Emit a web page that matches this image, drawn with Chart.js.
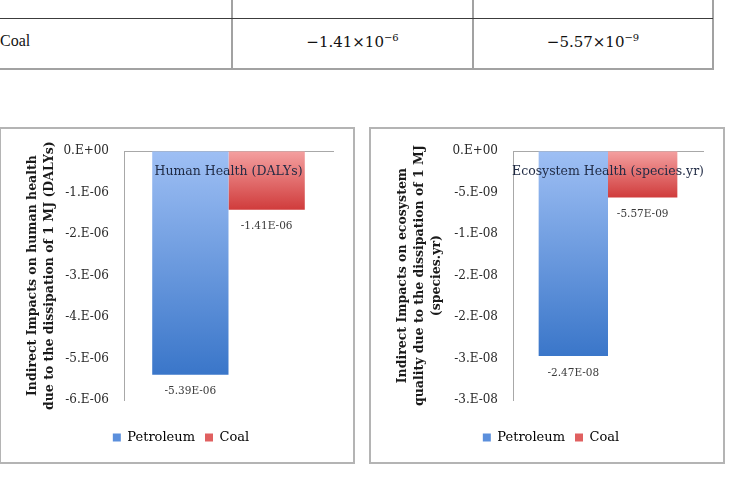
<!DOCTYPE html>
<html>
<head>
<meta charset="utf-8">
<script src="https://cdn.jsdelivr.net/npm/chart.js@4.4.1/dist/chart.umd.min.js"></script>
<style>
  body { margin: 0; background: #fff; width: 733px; height: 477px; overflow: hidden; position: relative; font-family: "Liberation Serif", serif; }
  .hl, .vl { position: absolute; }
  .cell { position: absolute; font-size: 16px; color: #111; }
  .num { font-family: "DejaVu Serif", serif; font-size: 15px; }
  .num sup { font-size: 10px; }
  .box { position: absolute; top: 127px; width: 356px; height: 337px; box-sizing: border-box; border: 2px solid #b4b4b4; }
  .box canvas { display: block; }
</style>
</head>
<body>
<div class="vl" style="left:231px;top:0;width:2px;height:69px;background:#a2a2a2"></div>
<div class="vl" style="left:472px;top:0;width:2px;height:69px;background:#a2a2a2"></div>
<div class="vl" style="left:712px;top:0;width:2px;height:69px;background:#a2a2a2"></div>
<div class="hl" style="left:0;top:18px;width:713px;height:1px;background:#3c3c3c"></div>
<div class="hl" style="left:0;top:68px;width:714px;height:2px;background:#a2a2a2"></div>
<div class="cell" style="left:0;top:32px">Coal</div>
<div class="cell num" style="left:232px;width:241px;top:32px;text-align:center">−1.41×10<sup>−6</sup></div>
<div class="cell num" style="left:473px;width:240px;top:32px;text-align:center">−5.57×10<sup>−9</sup></div>

<div class="box" style="left:-1px"><canvas id="hh" width="352" height="333"></canvas></div>
<div class="box" style="left:369px"><canvas id="eco" width="352" height="333"></canvas></div>

<script>
const fuels = ['Petroleum', 'Coal'];
const humanHealth = [-5.39e-6, -1.41e-6];
const ecosystem = [-2.47e-8, -5.57e-9];

const hhTicks = ['0.E+00', '-1.E-06', '-2.E-06', '-3.E-06', '-4.E-06', '-5.E-06', '-6.E-06'];
const ecoTicks = ['0.E+00', '-5.E-09', '-1.E-08', '-2.E-08', '-2.E-08', '-3.E-08', '-3.E-08'];

const hhTitle = 'Human Health (DALYs)';
const ecoTitle = 'Ecosystem Health (species.yr)';
const hhAxisTitle = ['Indirect Impacts on human health', 'due to the dissipation of 1 MJ (DALYs)'];
const ecoAxisTitle = ['Indirect Impacts on ecosystem', 'quality due to the dissipation of 1 MJ', '(species.yr)'];

const gradStops = [['#9ebff4', '#3a76c9'], ['#f4a0a0', '#d03c3c']];
const legendFill = ['#5b8fdc', '#e06060'];

const SERIF = "'DejaVu Serif', serif";
Chart.defaults.font.family = SERIF;

function sci(v) {
    const [m, e] = v.toExponential(2).split('e');
    const n = parseInt(e, 10);
    return m + 'E' + (n < 0 ? '-' : '+') + String(Math.abs(n)).padStart(2, '0');
}

// value labels under each bar plus the title inside the plot
const barText = {
    id: 'barText',
    afterDatasetsDraw(chart, args, opts) {
        const ctx = chart.ctx;
        ctx.save();
        ctx.fillStyle = '#3a3a3a';
        ctx.font = '10.5px ' + SERIF;
        ctx.textAlign = 'center';
        ctx.textBaseline = 'middle';
        chart.data.datasets.forEach((ds, i) => {
            chart.getDatasetMeta(i).data.forEach((bar, j) => {
                ctx.fillText(sci(ds.data[j]), bar.x, bar.y + 17);
            });
        });
        const a = chart.chartArea;
        ctx.fillStyle = '#1f2a44';
        ctx.font = '12.5px ' + SERIF;
        ctx.fillText(opts.text, (a.left + a.right) / 2, a.top + 21);
        ctx.restore();
    }
};

function makeChart(id, values, step, tickLabels, axisTitle, title, axisWidth) {
    const datasets = fuels.map((name, i) => ({
        label: name,
        data: [values[i]],
        backgroundColor: ctx => {
            const chart = ctx.chart;
            if (!chart.chartArea || !chart.scales.y) return gradStops[i][1];
            const y = chart.scales.y;
            const g = chart.ctx.createLinearGradient(0, y.getPixelForValue(0), 0, y.getPixelForValue(values[i]));
            g.addColorStop(0, gradStops[i][0]);
            g.addColorStop(1, gradStops[i][1]);
            return g;
        },
        borderWidth: 0,
        categoryPercentage: 0.73,
        barPercentage: 1
    }));
    return new Chart(document.getElementById(id), {
        type: 'bar',
        data: { labels: [''], datasets },
        plugins: [barText],
        options: {
            responsive: false,
            animation: false,
            layout: { padding: { top: 15, right: 20, bottom: 8, left: 28 } },
            plugins: {
                tooltip: { enabled: false },
                barText: { text: title },
                legend: {
                    position: 'bottom',
                    labels: {
                        boxWidth: 8, boxHeight: 8, padding: 10, color: '#222',
                        font: { family: SERIF, size: 13 },
                        generateLabels: chart => fuels.map((name, i) => ({
                            text: name, fillStyle: legendFill[i], strokeStyle: legendFill[i],
                            lineWidth: 0, datasetIndex: i
                        }))
                    }
                }
            },
            scales: {
                x: {
                    position: 'top',
                    grid: { display: false, drawTicks: false },
                    ticks: { display: false },
                    border: { display: true, color: '#a8a8a8', width: 1 }
                },
                x2: {
                    position: 'bottom',
                    grid: { display: false, drawTicks: false },
                    ticks: { display: false },
                    border: { display: false },
                    afterFit: s => { s.height = 21; }
                },
                y: {
                    min: -6 * step, max: 0,
                    grid: { display: false, drawTicks: false },
                    border: { display: true, color: '#a8a8a8', width: 1 },
                    afterFit: s => { s.width = axisWidth - 28; },
                    ticks: {
                        stepSize: step, padding: 15, color: '#2a2a2a',
                        font: { family: SERIF, size: 12 },
                        callback: v => tickLabels[Math.round(-v / step)]
                    },
                    title: {
                        display: true, text: axisTitle, color: '#1a1a1a',
                        font: { family: SERIF, size: 12.5, weight: 'bold', lineHeight: 1.38 },
                        padding: { top: -5, bottom: 0 }
                    }
                }
            }
        }
    });
}

makeChart('hh', humanHealth, 1e-6, hhTicks, hhAxisTitle, hhTitle, 123);
makeChart('eco', ecosystem, 5e-9, ecoTicks, ecoAxisTitle, ecoTitle, 142);
</script>
</body>
</html>
